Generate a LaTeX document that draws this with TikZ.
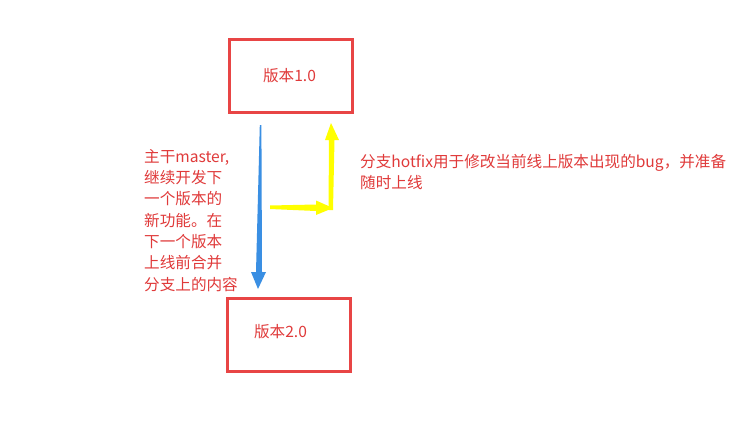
\documentclass[tikz,border=0pt]{standalone}
\usepackage{fontspec}
\setmainfont{Noto Sans CJK SC}
\definecolor{boxred}{HTML}{E84545}
\definecolor{txtred}{HTML}{E03A3A}
\definecolor{arrblue}{HTML}{3A8FE3}
\definecolor{arryel}{HTML}{FFFF00}
\begin{document}
\begin{tikzpicture}[x=1pt,y=-1pt,
  verbox/.style={draw=boxred,line width=3pt,minimum width=123pt,minimum height=73pt,inner sep=0pt},
  lbl/.style={text=txtred,font=\fontsize{15.6}{21.3}\selectfont,inner sep=0pt,align=left}]
\useasboundingbox[fill=white] (0,0) rectangle (745,434);
\node[verbox] (v1) at (290.5,75.5) {};
\node[lbl] (t1) at (289.5,76) {版本1.0};
\node[verbox] (v2) at (289,334.5) {};
\node[lbl] (t2) at (280.5,332) {版本2.0};
\node[lbl,anchor=north west] (left) at (144,149) {主干master,\\继续开发下\\一个版本的\\新功能。在\\下一个版本\\上线前合并\\分支上的内容};
\node[lbl,anchor=north west] (right) at (360,154) {分支hotfix用于修改当前线上版本出现的bug，并准备\\随时上线};
% blue tapered arrow (master)
\coordinate (bt) at (260.5,125);
\coordinate (btip) at (258,289);
\fill[arrblue] (bt) ++(-0.7,0) -- ++(1.6,0) -- (262,272) -- (266,272) -- (btip) -- (251,272) -- (256,272) -- cycle;
% yellow horizontal arrow
\coordinate (yt) at (270,207);
\coordinate (ytip) at (333,208);
\fill[arryel] (270,205.5) -- (316,204.5) -- (316,200.5) -- (ytip) -- (316,215) -- (316,211) -- (270,209) -- cycle;
% yellow vertical arrow
\coordinate (yb) at (330.5,210);
\coordinate (yvtip) at (331,123);
\fill[arryel] (328.5,210) -- (329,140) -- (325,140) -- (yvtip) -- (339,140) -- (334.5,140) -- (333,210) -- cycle;
\end{tikzpicture}
\end{document}
